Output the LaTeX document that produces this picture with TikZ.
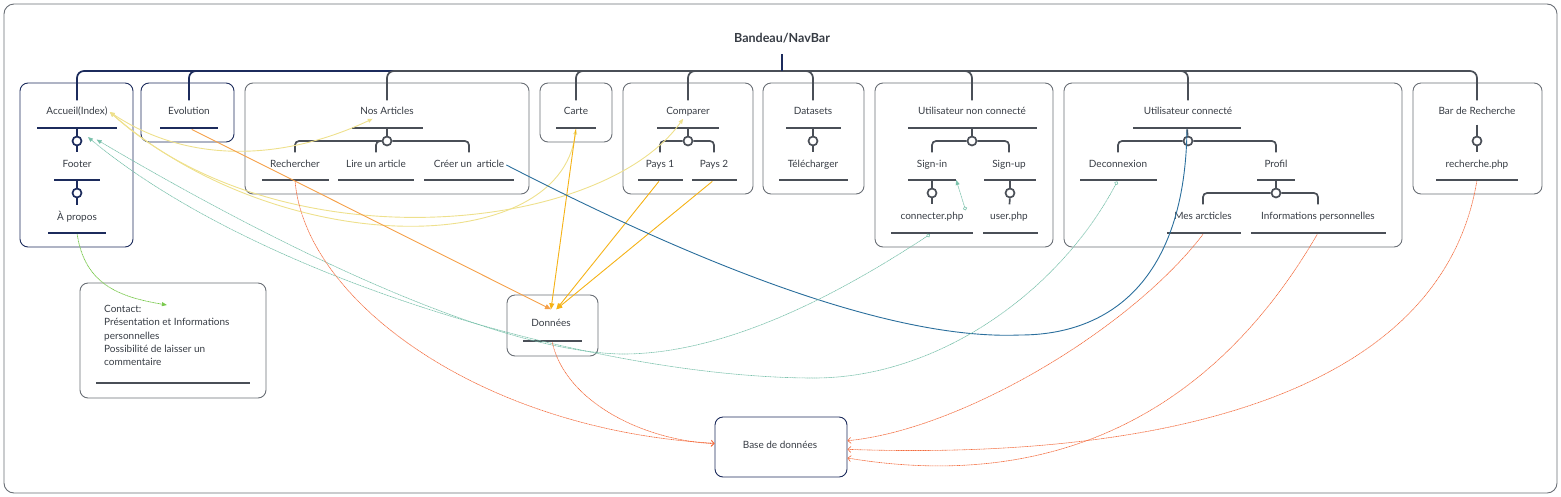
\documentclass[tikz,border=0pt]{standalone}
\usepackage{fontspec}
\setmainfont{Lato}
\usepackage{tikz}
\usetikzlibrary{arrows.meta}
\definecolor{navy}{RGB}{28,43,92}
\definecolor{bargray}{RGB}{74,79,87}
\definecolor{framegray}{RGB}{105,110,117}
\definecolor{inkgray}{RGB}{55,60,68}
\definecolor{softyellow}{RGB}{238,224,140}
\definecolor{evoorange}{RGB}{245,160,72}
\definecolor{amber}{RGB}{245,178,22}
\definecolor{linkblue}{RGB}{42,110,156}
\definecolor{softteal}{RGB}{120,192,170}
\definecolor{softgreen}{RGB}{120,200,75}
\definecolor{dbred}{RGB}{243,108,62}

\begin{document}
\begin{tikzpicture}[
  x=1pt, y=-1pt,
  every node/.style={font=\fontsize{10}{13.3}\selectfont, text=inkgray},
  box/.style={draw=framegray, line width=0.9pt, rounded corners=8pt},
  navybox/.style={box, draw=navy},
  lbl/.style={text height=7pt, text depth=2pt, inner sep=2pt},
  bar/.style={fill=bargray, minimum height=2.4pt, inner sep=0pt},
  navybar/.style={bar, fill=navy},
  knob/.style={circle, draw=bargray, fill=white, line width=1.7pt, minimum size=9pt, inner sep=0pt},
  navyknob/.style={knob, draw=navy},
  stem/.style={draw=bargray, line width=1.7pt, rounded corners=4pt},
  navystem/.style={stem, draw=navy},
  drop/.style={stem, shorten >=6pt},
  navydrop/.style={drop, draw=navy},
  trunk/.style={stem, rounded corners=7pt, shorten >=5pt},
  navytrunk/.style={trunk, draw=navy},
  yel/.style={draw=softyellow, line width=0.9pt},
  teallink/.style={draw=softteal, line width=0.6pt, dash pattern=on 1.2pt off 0.5pt},
  dblink/.style={draw=dbred, line width=0.6pt, dash pattern=on 1.2pt off 0.5pt, -{Straight Barb[length=3pt,width=6pt]}}
]
\useasboundingbox (0,0) rectangle (1561,496);
\draw[framegray, line width=0.9pt, rounded corners=10pt] (4,4) rectangle (1557,493);

% boxes
\node[navybox, minimum width=113, minimum height=164] (accueilbox) at (76.5,165) {};
\node[navybox, minimum width=93, minimum height=59] (evolutionbox) at (187.5,112.5) {};
\node[box, minimum width=284, minimum height=111] (articlesbox) at (387,138.5) {};
\node[box, minimum width=72, minimum height=59] (cartebox) at (576,112.5) {};
\node[box, minimum width=130, minimum height=111] (comparerbox) at (688,138.5) {};
\node[box, minimum width=101, minimum height=111] (datasetsbox) at (813.5,138.5) {};
\node[box, minimum width=178, minimum height=164] (noncobox) at (964,165) {};
\node[box, minimum width=338, minimum height=164] (connectebox) at (1233,165) {};
\node[box, minimum width=129, minimum height=111] (barrebox) at (1477.5,138.5) {};
\node[box, minimum width=186, minimum height=115] (contactbox) at (173,340.5) {};
\node[box, minimum width=91, minimum height=61] (donneesbox) at (552.5,325.5) {};
\node[navybox, minimum width=132, minimum height=60] (bddbox) at (781,447) {};

% labels
\node[font=\fontsize{12.5}{15}\selectfont\bfseries] (navbar) at (782,38) {Bandeau/NavBar};
\node[lbl] (accueil) at (77,112) {Accueil(Index)};
\node[lbl] (footer) at (77,165) {Footer};
\node[lbl] (apropos) at (77,218) {À propos};
\node[lbl] (evolution) at (189,112) {Evolution};
\node[lbl] (articles) at (387,112) {Nos Articles};
\node[lbl] (rechercher) at (295,165) {Rechercher};
\node[lbl] (lire) at (376,165) {Lire un article};
\node[lbl] (creer) at (469,165) {Créer un~ article};
\node[lbl] (carte) at (576,112) {Carte};
\node[lbl] (comparer) at (688,112) {Comparer};
\node[lbl] (pays1) at (660,165) {Pays 1};
\node[lbl] (pays2) at (714,165) {Pays 2};
\node[lbl] (datasets) at (813,112) {Datasets};
\node[lbl] (telecharger) at (813,165) {Télécharger};
\node[lbl] (nonco) at (972,112) {Utilisateur non connecté};
\node[lbl] (signin) at (932,165) {Sign-in};
\node[lbl] (signup) at (1009,165) {Sign-up};
\node[lbl] (connecter) at (932,217) {connecter.php};
\node[lbl] (userphp) at (1009,217) {user.php};
\node[lbl] (connecte) at (1188,112) {Utilisateur connecté};
\node[lbl] (deconnexion) at (1118,165) {Deconnexion};
\node[lbl] (profil) at (1276,165) {Profil};
\node[lbl] (mesarticles) at (1203,217) {Mes arcticles};
\node[lbl] (infos) at (1318,217) {Informations personnelles};
\node[lbl] (barre) at (1477,112) {Bar de Recherche};
\node[lbl] (recherchephp) at (1477,165) {recherche.php};
\node[lbl, inner ysep=10pt] (donnees) at (551,324) {Données};
\node[lbl] (bdd) at (780,446) {Base de données};
\node[anchor=north west, align=left, inner sep=0pt] (contact) at (104,305)
  {Contact:\\Présentation et Informations\\personnelles\\Possibilité de laisser un\\commentaire};

% underline bars
\node[navybar, minimum width=80] (accueilbar) at (77,128) {};
\node[navybar, minimum width=46] (footerbar) at (77,180) {};
\node[navybar, minimum width=58] (aproposbar) at (77,233) {};
\node[navybar, minimum width=58] (evolutionbar) at (189,128) {};
\node[bar, minimum width=71] (articlesbar) at (387,128) {};
\node[bar, minimum width=67] (rechercherbar) at (295,180) {};
\node[bar, minimum width=76] (lirebar) at (376,180) {};
\node[bar, minimum width=90] (creerbar) at (469,180) {};
\node[bar, minimum width=40] (cartebar) at (576,128) {};
\node[bar, minimum width=62] (comparerbar) at (688,128) {};
\node[bar, minimum width=45] (pays1bar) at (660,180) {};
\node[bar, minimum width=45] (pays2bar) at (714,180) {};
\node[bar, minimum width=55] (datasetsbar) at (813,128) {};
\node[bar, minimum width=69] (telechargerbar) at (813,180) {};
\node[bar, minimum width=129] (noncobar) at (972,128) {};
\node[bar, minimum width=48] (signinbar) at (932,180) {};
\node[bar, minimum width=52] (signupbar) at (1010,180) {};
\node[bar, minimum width=82] (connecterbar) at (932,233) {};
\node[bar, minimum width=55] (userphpbar) at (1010,233) {};
\node[bar, minimum width=108] (connectebar) at (1187,128) {};
\node[bar, minimum width=77] (deconnexionbar) at (1118,180) {};
\node[bar, minimum width=38] (profilbar) at (1276,180) {};
\node[bar, minimum width=74] (mesarticlesbar) at (1204,233) {};
\node[bar, minimum width=135] (infosbar) at (1318,233) {};
\node[bar, minimum width=82] (recherchephpbar) at (1477,180) {};
\node[bar, minimum width=154] (contactbar) at (173,383) {};
\node[bar, minimum width=59] (donneesbar) at (552,341) {};

% knobs
\node[navyknob] (accueilknob) at (77,141) {};
\node[navyknob] (footerknob) at (77,193) {};
\node[knob] (articlesknob) at (387,141) {};
\node[knob] (comparerknob) at (688,141) {};
\node[knob] (datasetsknob) at (813,141) {};
\node[knob] (noncoknob) at (972,141) {};
\node[knob] (signinknob) at (932,193) {};
\node[knob] (signupknob) at (1010,193) {};
\node[knob] (connecteknob) at (1188,141) {};
\node[knob] (profilknob) at (1276,193) {};
\node[knob] (barreknob) at (1477,141) {};

% navbar trunk
\coordinate (hub) at (782,71);
\draw[navytrunk] (hub) -| (accueil);
\draw[navytrunk] (hub) -| (evolution);
\draw[trunk] (hub) -| (articles);
\draw[trunk] (hub) -| (carte);
\draw[trunk] (hub) -| (comparer);
\draw[trunk] (hub) -| (datasets);
\draw[trunk] (hub) -| (nonco);
\draw[trunk] (hub) -| (connecte);
\draw[trunk] (hub) -| (barre);
\draw[navystem, shorten <=8pt] (navbar) -- (hub);

% stems inside the boxes
\draw[navystem] (accueilbar) -- (accueilknob);
\draw[navydrop] (accueilknob) -- (footer);
\draw[navystem] (footerbar) -- (footerknob);
\draw[navydrop] (footerknob) -- (apropos);
\draw[stem] (articlesbar) -- (articlesknob);
\draw[drop] (articlesknob) -| (rechercher);
\draw[drop] (articlesknob) -| (lire);
\draw[drop] (articlesknob) -| (creer);
\draw[stem] (comparerbar) -- (comparerknob);
\draw[drop] (comparerknob) -| (pays1);
\draw[drop] (comparerknob) -| (pays2);
\draw[stem] (datasetsbar) -- (datasetsknob);
\draw[drop] (datasetsknob) -- (telecharger);
\draw[stem] (noncobar) -- (noncoknob);
\draw[drop] (noncoknob) -| (signin);
\draw[drop] (noncoknob) -| (signup);
\draw[stem] (signinbar) -- (signinknob);
\draw[drop] (signinknob) -- (connecter);
\draw[stem] (signupbar) -- (signupknob);
\draw[drop] (signupknob) -- (userphp);
\draw[stem] (connectebar) -- (connecteknob);
\draw[drop] (connecteknob) -| (deconnexion);
\draw[drop] (connecteknob) -| (profil);
\draw[stem] (profilbar) -- (profilknob);
\draw[drop] (profilknob) -| (mesarticles);
\draw[drop] (profilknob) -| (infos);
\draw[stem, shorten <=6pt] (barre) -- (barreknob);
\draw[drop] (barreknob) -- (recherchephp);

% links from the home page
\draw[yel, {Triangle[length=5pt,width=4pt]}-{Triangle[length=5pt,width=4pt]}] (accueil.east) .. controls (190,165) and (285,160) .. (articles);
\draw[yel, {Triangle[length=5pt,width=4pt]}-{Triangle[length=5pt,width=4pt]}] (accueil.east) .. controls (280,260) and (560,260) .. (cartebar);
\draw[yel, {Triangle[length=5pt,width=4pt]}-{Triangle[length=5pt,width=4pt]}] (accueil.east) .. controls (280,265) and (600,235) .. (comparer);
\draw[softgreen, line width=0.7pt, dash pattern=on 1.2pt off 0.5pt, -{Triangle[length=5pt,width=4pt]}] (aproposbar) .. controls (85,285) and (120,297) .. (contact.north);

% links to the data
\draw[evoorange, line width=0.9pt, -{Triangle[length=6pt,width=5pt]}] (evolutionbar) -- (donnees.north);
\draw[amber, line width=0.9pt, -{Triangle[length=6pt,width=5pt]}] (cartebar) -- (donnees.north);
\draw[amber, line width=0.9pt, -{Triangle[length=6pt,width=5pt]}] (pays1bar) -- (donnees.70);
\draw[amber, line width=0.9pt, -{Triangle[length=6pt,width=5pt]}] (pays2bar) -- (donnees.70);

% article creation needs a connected user
\draw[linkblue, line width=0.9pt] (creer.east) .. controls (720,275) and (900,340) .. (1020,335)
  .. controls (1110,335) and (1185,280) .. (connectebar);

% back to the home page
\draw[teallink, {Circle[open,length=4pt]}-{Triangle[length=5pt,width=4pt]}, shorten >=20pt] (connecterbar) .. controls (830,300) and (720,355) .. (620,354)
  .. controls (480,350) and (250,230) .. (accueilbar);
\draw[teallink, {Circle[open,length=4pt]}-{Triangle[length=5pt,width=4pt]}, shorten >=12pt] (deconnexionbar) .. controls (1060,290) and (940,378) .. (814,378)
  .. controls (600,378) and (260,280) .. (accueilbar);
\draw[teallink, {Circle[open,length=4pt]}-{Triangle[length=5pt,width=4pt]}] (connecter.north east) -- (signinbar.east);

% database accesses
\draw[dblink] (rechercherbar) .. controls (305,300) and (480,430) .. (bddbox);
\draw[dblink] (donneesbar) .. controls (565,400) and (640,440) .. (bddbox);
\draw[dblink] (mesarticlesbar) .. controls (1130,330) and (960,430) .. (bddbox);
\draw[dblink] (infosbar) .. controls (1180,470) and (980,480) .. (bddbox);
\draw[dblink] (recherchephpbar) .. controls (1440,400) and (1150,460) .. (bddbox);
\end{tikzpicture}
\end{document}
